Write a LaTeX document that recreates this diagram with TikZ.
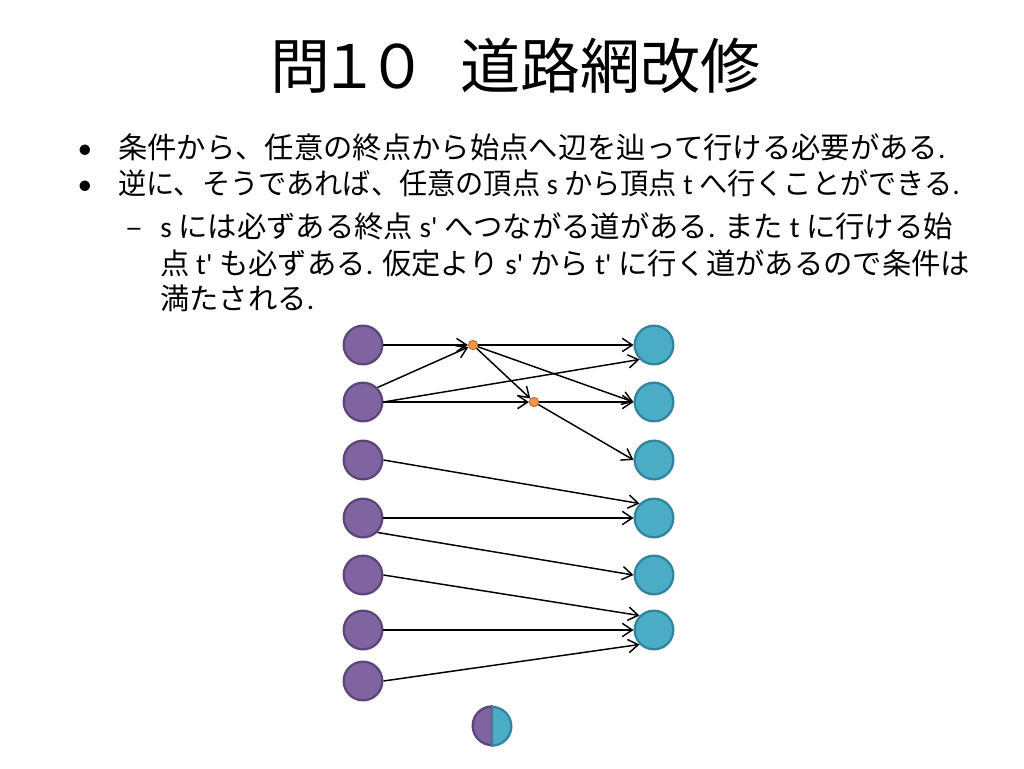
\documentclass[tikz,border=0pt]{standalone}
\usepackage{fontspec}
\usepackage{graphicx}
\setmainfont{Noto Sans CJK JP}
\newfontfamily\latin[Ligatures=TeXOff]{Carlito}
\usetikzlibrary{arrows.meta, positioning}

\definecolor{srcfill}{HTML}{8064A2}
\definecolor{srcline}{HTML}{5C4678}
\definecolor{dstfill}{HTML}{4BACC6}
\definecolor{dstline}{HTML}{31849B}
\definecolor{juncfill}{HTML}{F79646}
\definecolor{juncline}{HTML}{B66D31}

\newcommand{\lat}[1]{{\latin #1}}

\begin{document}
\begin{tikzpicture}[x=0.75pt, y=-0.75pt]
    \tikzstyle{src} = [circle, draw=srcline, fill=srcfill, line width=1.7pt, minimum size=29pt, inner sep=0pt]
    \tikzstyle{dst} = [circle, draw=dstline, fill=dstfill, line width=1.7pt, minimum size=29pt, inner sep=0pt]
    \tikzstyle{junc} = [circle, draw=juncline, fill=juncfill, line width=0.7pt, minimum size=7pt, inner sep=0pt]
    \tikzstyle{edge} = [-{Straight Barb[length=7.5pt,width=10pt]}, line width=1.1pt]
    \tikzstyle{textline} = [anchor=base west, inner sep=0pt, font=\fontsize{22}{26}\selectfont]
    \tikzstyle{bulletsym} = [anchor=base, inner sep=0pt, font=\fontsize{22}{26}\selectfont]

    \useasboundingbox (0,0) rectangle (1024,768);

    % title and text
    \node[anchor=base west, inner sep=0pt, font=\fontsize{45}{52}\selectfont] (title) at (270,88) {問\kern-8.25pt １\kern-9pt ０\kern-20pt 　道路網改修};
    \node[bulletsym] (bullet1) at (85,158) {\lat{•}};
    \node[bulletsym] (bullet2) at (85,194) {\lat{•}};
    \node[bulletsym] (dash) at (134,237) {–};
    \node[textline] (line1) at (118,158) {条件から、任意の終点から始点へ辺を辿って行ける必要がある\lat{.}};
    \node[textline] (line2) at (118,194) {\scalebox{0.962}[1]{逆に、そうであれば、任意の頂点\lat{ s }から頂点\lat{ t }へ行くことができる\lat{.}}};
    \node[textline] (line3) at (160,237) {\lat{s }には必ずある終点\lat{ s' }へつながる道がある\lat{. }また\lat{ t }に行ける始};
    \node[textline] (line4) at (160,274) {点\lat{ t' }も必ずある\lat{. }仮定より\lat{ s' }から\lat{ t' }に行く道があるので条件は};
    \node[textline] (line5) at (160,309) {満たされる\lat{.}};

    % vertices
    \node[src] (s1) at (363,345) {};
    \node[src] (s2) at (363,402) {};
    \node[src] (s3) at (363,460) {};
    \node[src] (s4) at (363,518) {};
    \node[src] (s5) at (363,575) {};
    \node[src] (s6) at (363,630) {};
    \node[src] (s7) at (363,681) {};

    \node[dst] (t1) at (654,345) {};
    \node[dst] (t2) at (654,402) {};
    \node[dst] (t3) at (654,460) {};
    \node[dst] (t4) at (654,518) {};
    \node[dst] (t5) at (654,575) {};
    \node[dst] (t6) at (654,630) {};

    \node[junc] (ja) at (473,345) {};
    \node[junc] (jb) at (534,402) {};

    % edges
    \draw[edge] (s1.east) -- (ja);
    \draw[edge] (s2.north east) -- (ja);
    \draw[edge] (s2.east) -- (t1.south west);
    \draw[edge] (s2.east) -- (jb);
    \draw[edge] (ja) -- (t1.west);
    \draw[edge] (ja) -- (t2.west);
    \draw[edge] (ja) -- (jb);
    \draw[edge] (jb) -- (t2.west);
    \draw[edge] (jb) -- (t3.west);
    \draw[edge] (s3.east) -- (t4.north west);
    \draw[edge] (s4.east) -- (t4.west);
    \draw[edge] (s4.south east) -- (t5.west);
    \draw[edge] (s5.east) -- (t6.north west);
    \draw[edge] (s6.east) -- (t6.west);
    \draw[edge] (s7.east) -- (t6.south west);

    % merged vertex
    \node[circle, minimum size=29pt, inner sep=0pt] (mix) at (492,726) {};
    \filldraw[fill=srcfill, draw=srcline, line width=1.7pt] (mix.north) arc[start angle=90, end angle=270, radius=14.5pt] -- cycle;
    \filldraw[fill=dstfill, draw=dstline, line width=1.7pt] (mix.south) arc[start angle=-90, end angle=90, radius=14.5pt] -- cycle;
\end{tikzpicture}
\end{document}
